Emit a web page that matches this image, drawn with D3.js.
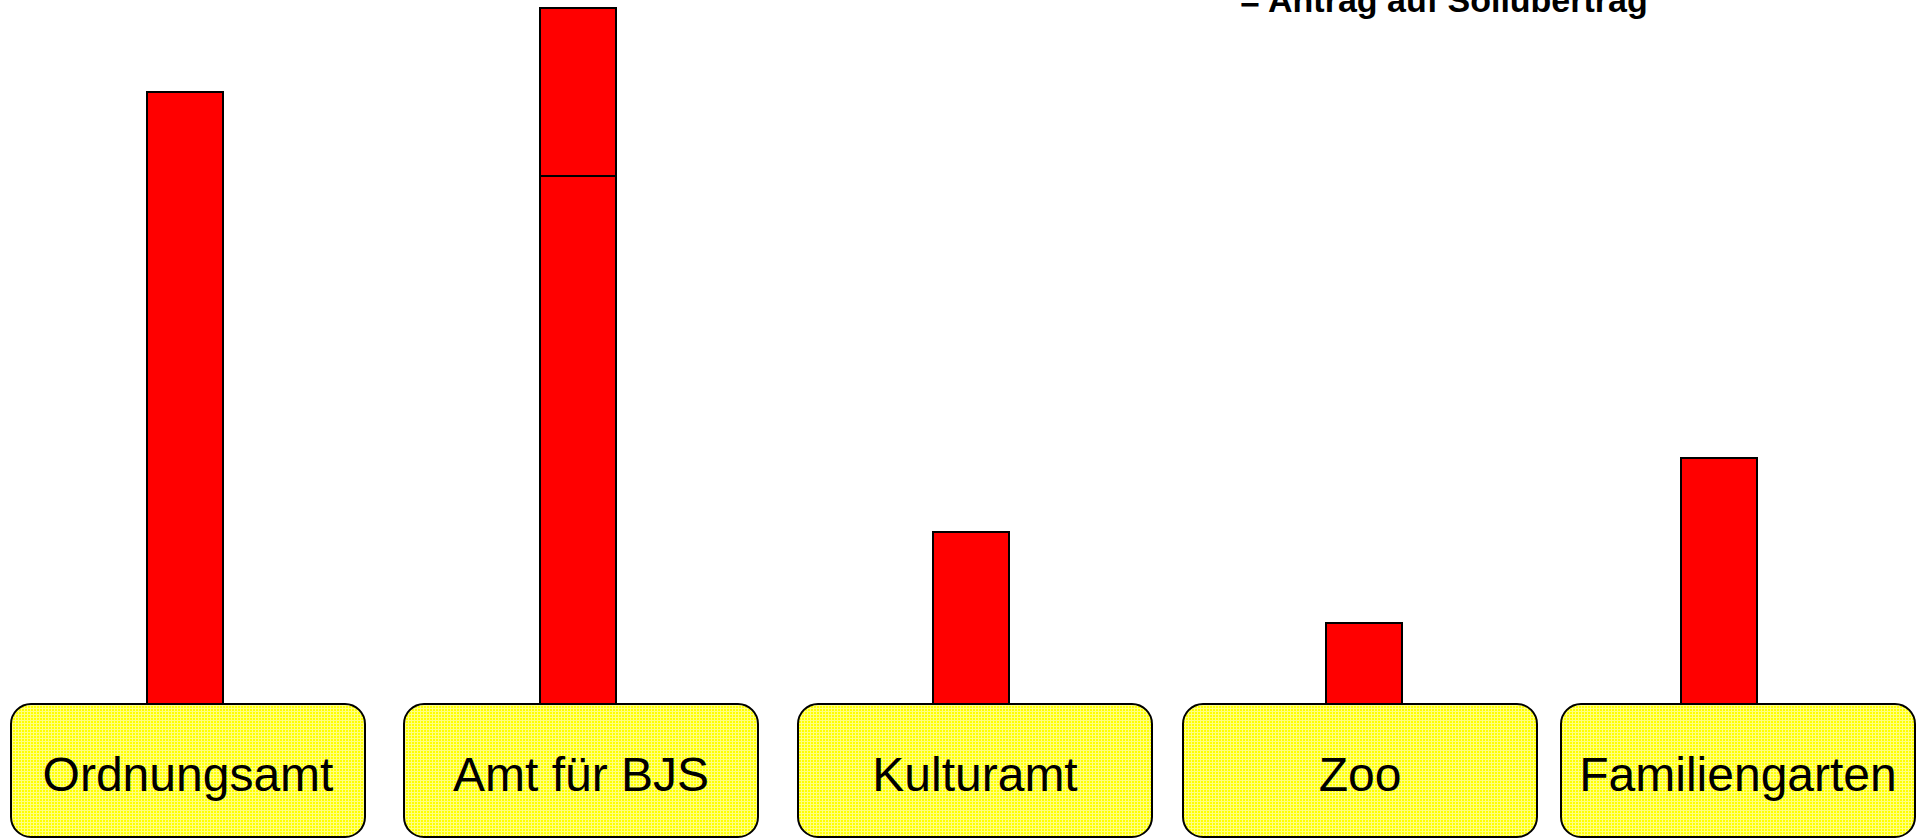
<!DOCTYPE html>
<html>
<head>
<meta charset="utf-8">
<script src="https://cdn.jsdelivr.net/npm/d3@7"></script>
<style>
  body { margin: 0; background: #fff; }
  svg { display: block; }
</style>
</head>
<body>
<div id="chart"></div>
<script>
// chart size
var width = 1927
var height = 839

// data
var categories = ["Ordnungsamt", "Amt für BJS", "Kulturamt", "Zoo", "Familiengarten"]
var baseValues = [612, 528, 172, 81, 246]
var extraValues = [0, 168, 0, 0, 0]
var title = "= Antrag auf Sollübertrag"

var svg = d3.select("#chart")
  .append("svg")
    .attr("width", width)
    .attr("height", height);

// fine grid fill for the yellow label boxes
var defs = svg.append("defs");
var pat = defs.append("pattern")
    .attr("id", "mesh")
    .attr("width", 3)
    .attr("height", 3)
    .attr("patternUnits", "userSpaceOnUse");
pat.append("rect").attr("width", 3).attr("height", 3).attr("fill", "#ffff00");
pat.append("path")
    .attr("d", "M0,0.5H3M0.5,0V3")
    .attr("stroke", "#ffff80")
    .attr("stroke-width", 1);

// x positions: box centers and bar centers
var xBox = d3.scaleOrdinal()
  .domain(categories)
  .range([188, 581, 975, 1360, 1738])
var xBar = d3.scaleOrdinal()
  .domain(categories)
  .range([185, 578, 971, 1364, 1719])

var barWidth = 76
var boxWidth = 354
var baseY = 704

var y = d3.scaleLinear()
  .domain([0, 700])
  .range([baseY, baseY - 700])

var data = categories.map(function(c, i) {
  return { name: c, base: baseValues[i], extra: extraValues[i] }
})

// lower part of each bar
svg.selectAll("rect.base")
  .data(data)
  .enter()
  .append("rect")
    .attr("class", "base")
    .attr("x", function(d){ return xBar(d.name) - barWidth / 2 })
    .attr("y", function(d){ return y(d.base) })
    .attr("width", barWidth)
    .attr("height", function(d){ return y(0) - y(d.base) })
    .style("fill", "#ff0000")
    .attr("stroke", "black")
    .style("stroke-width", 2);

// stacked upper part (only where there is one)
svg.selectAll("rect.extra")
  .data(data.filter(function(d){ return d.extra > 0 }))
  .enter()
  .append("rect")
    .attr("class", "extra")
    .attr("x", function(d){ return xBar(d.name) - barWidth / 2 })
    .attr("y", function(d){ return y(d.base + d.extra) })
    .attr("width", barWidth)
    .attr("height", function(d){ return y(d.base) - y(d.base + d.extra) })
    .style("fill", "#ff0000")
    .attr("stroke", "black")
    .style("stroke-width", 2);

// yellow label boxes
var box = svg.selectAll("g.box")
  .data(data)
  .enter()
  .append("g")
    .attr("class", "box");

box.append("rect")
    .attr("x", function(d){ return xBox(d.name) - boxWidth / 2 })
    .attr("y", baseY)
    .attr("width", boxWidth)
    .attr("height", 133)
    .attr("rx", 20)
    .attr("ry", 20)
    .style("fill", "url(#mesh)")
    .attr("stroke", "black")
    .style("stroke-width", 2);

box.append("text")
    .attr("x", function(d){ return xBox(d.name) })
    .attr("y", 791)
    .attr("text-anchor", "middle")
    .style("font-family", "'Liberation Sans', Arial, sans-serif")
    .style("font-size", "48px")
    .style("fill", "black")
    .text(function(d){ return d.name });

// title, cut at the top edge like in the original
svg.append("text")
    .attr("x", 1240)
    .attr("y", 12)
    .style("font-family", "'Liberation Sans', Arial, sans-serif")
    .style("font-weight", "bold")
    .style("font-size", "34px")
    .style("fill", "black")
    .text(title);
</script>
</body>
</html>
